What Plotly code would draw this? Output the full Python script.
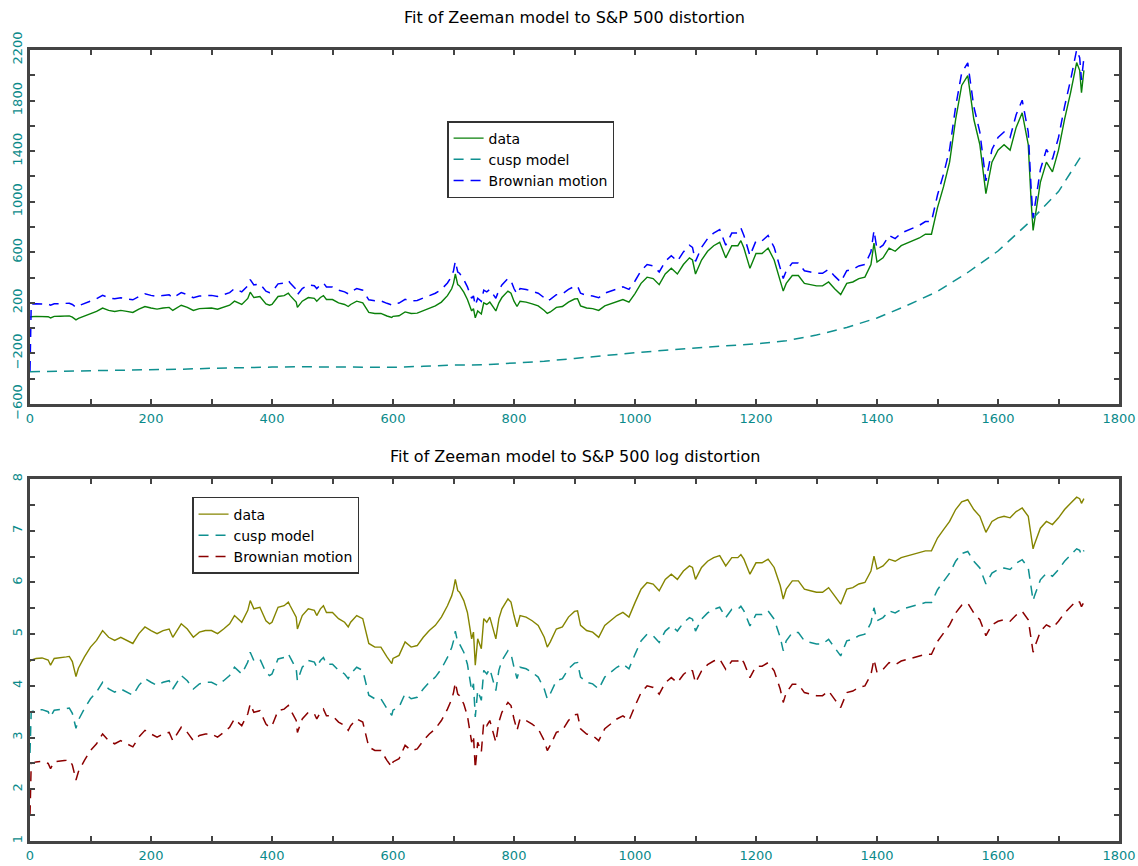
import plotly.graph_objects as go

# ---------------- data ----------------
t = [0, 2, 10, 20, 30, 34, 40, 50, 60, 65,
     70, 76, 80, 90, 100, 110, 120, 130, 140, 150,
     160, 170, 180, 190, 200, 210, 220, 230, 236, 240,
     250, 260, 270, 280, 290, 300, 310, 320, 330, 338,
     350, 360, 364, 370, 380, 390, 396, 400, 410, 420,
     427, 430, 440, 442, 450, 460, 470, 474, 480, 485,
     490, 500, 510, 520, 526, 530, 540, 550, 560, 570,
     580, 590, 598, 600, 610, 620, 630, 640, 650, 660,
     670, 680, 690, 697, 700, 703, 707, 710, 717, 723,
     730, 733, 736, 740, 746, 750, 755, 760, 766, 770,
     775, 780, 790, 795, 800, 805, 810, 820, 830, 840,
     850, 855, 860, 870, 880, 890, 900, 905, 910, 920,
     930, 940, 950, 960, 970, 980, 990, 1000, 1010, 1020,
     1030, 1040, 1050, 1060, 1070, 1080, 1090, 1095, 1100, 1110,
     1120, 1130, 1140, 1150, 1160, 1170, 1175, 1180, 1190, 1200,
     1210, 1220, 1230, 1240, 1245, 1250, 1260, 1270, 1280, 1290,
     1300, 1310, 1320, 1330, 1340, 1350, 1360, 1370, 1380, 1390,
     1395, 1400, 1410, 1420, 1430, 1440, 1450, 1460, 1470, 1480,
     1490, 1500, 1510, 1520, 1530, 1540, 1550, 1560, 1570, 1580,
     1590, 1600, 1610, 1620, 1630, 1640, 1650, 1655, 1658, 1660,
     1670, 1680, 1690, 1700, 1710, 1720, 1730, 1735, 1738, 1742]

data_top = [87, 90, 93, 94, 90, 81, 93, 94, 96, 97,
            87, 65, 77, 96, 116, 132, 159, 140, 132, 140,
            132, 124, 150, 171, 159, 150, 159, 164, 140, 150,
            181, 164, 140, 154, 159, 159, 150, 164, 181, 213,
            187, 235, 284, 242, 250, 192, 181, 187, 250, 257,
            276, 257, 206, 164, 213, 242, 235, 213, 242, 257,
            226, 226, 200, 187, 171, 187, 213, 200, 124, 116,
            116, 96, 84, 93, 98, 128, 116, 119, 140, 159,
            176, 206, 257, 311, 354, 428, 344, 334, 284, 226,
            136, 154, 81, 136, 112, 200, 187, 206, 164, 136,
            200, 242, 293, 276, 213, 171, 213, 206, 192, 176,
            140, 116, 128, 164, 171, 206, 230, 233, 176, 159,
            154, 140, 176, 194, 213, 226, 206, 273, 354, 403,
            392, 344, 428, 473, 428, 503, 556, 539, 428, 539,
            608, 652, 679, 556, 652, 652, 692, 633, 473, 590,
            590, 633, 539, 380, 293, 354, 416, 416, 354, 344,
            334, 334, 365, 311, 265, 354, 365, 392, 403, 503,
            672, 523, 556, 633, 608, 652, 672, 692, 713, 743,
            743, 953, 1119, 1313, 1652, 1920, 1998, 1652, 1451, 1064,
            1313, 1408, 1451, 1408, 1588, 1703, 1451, 982, 773, 837,
            1153, 1313, 1236, 1408, 1652, 1863, 2101, 2039, 1863, 2039]

brown_top = [-340, 190, 193, 194, 190, 181, 193, 194, 196, 197,
             187, 165, 177, 196, 216, 232, 259, 240, 232, 240,
             232, 224, 250, 271, 259, 250, 259, 264, 240, 250,
             281, 264, 240, 254, 259, 259, 250, 264, 281, 313,
             287, 335, 384, 342, 350, 292, 281, 287, 350, 357,
             376, 357, 306, 264, 313, 342, 335, 313, 342, 357,
             326, 326, 300, 287, 271, 287, 313, 300, 224, 216,
             216, 196, 184, 193, 198, 228, 216, 219, 240, 259,
             276, 306, 357, 411, 454, 528, 444, 434, 384, 326,
             236, 254, 181, 236, 212, 300, 287, 306, 264, 236,
             300, 342, 393, 376, 313, 271, 313, 306, 292, 276,
             240, 216, 228, 264, 271, 306, 330, 333, 276, 259,
             254, 240, 276, 294, 313, 326, 306, 373, 454, 503,
             492, 444, 528, 573, 528, 603, 656, 639, 528, 639,
             708, 752, 779, 656, 752, 752, 792, 733, 573, 690,
             690, 733, 639, 480, 393, 454, 516, 516, 454, 444,
             434, 434, 465, 411, 365, 454, 465, 492, 503, 603,
             772, 623, 656, 733, 708, 752, 772, 792, 813, 843,
             843, 1053, 1219, 1413, 1752, 2020, 2098, 1752, 1551, 1164,
             1413, 1508, 1551, 1508, 1688, 1803, 1551, 1082, 873, 937,
             1253, 1413, 1336, 1508, 1752, 1963, 2201, 2139, 1963, 2139]

t_cusp = [0, 50, 100, 150, 200, 250, 300, 350, 400, 450, 500, 550, 600,
          650, 700, 750, 800, 850, 900, 950, 1000, 1050, 1100, 1150, 1200,
          1250, 1300, 1350, 1400, 1450, 1500, 1550, 1600, 1650, 1700, 1740]
cusp_top = [-345, -342, -338, -335, -330, -325, -318, -312, -308, -306, -306, -308, -310,
            -302, -292, -290, -275, -262, -240, -215, -195, -175, -155, -140, -125,
            -100, -55, 5, 80, 180, 290, 440, 610, 830, 1080, 1380]

data_log = [4.47, 4.50, 4.53, 4.54, 4.50, 4.40, 4.53, 4.54, 4.56, 4.57,
            4.47, 4.18, 4.34, 4.56, 4.75, 4.88, 5.07, 4.94, 4.88, 4.94,
            4.88, 4.82, 5.01, 5.14, 5.07, 5.01, 5.07, 5.10, 4.94, 5.01,
            5.20, 5.10, 4.94, 5.04, 5.07, 5.07, 5.01, 5.10, 5.20, 5.36,
            5.23, 5.46, 5.65, 5.49, 5.52, 5.26, 5.20, 5.23, 5.52, 5.55,
            5.62, 5.55, 5.33, 5.10, 5.36, 5.49, 5.46, 5.36, 5.49, 5.55,
            5.42, 5.42, 5.30, 5.23, 5.14, 5.23, 5.36, 5.30, 4.82, 4.75,
            4.75, 4.56, 4.43, 4.53, 4.59, 4.85, 4.75, 4.78, 4.94, 5.07,
            5.17, 5.33, 5.55, 5.74, 5.87, 6.06, 5.84, 5.81, 5.65, 5.42,
            4.91, 5.04, 4.40, 4.91, 4.72, 5.30, 5.23, 5.33, 5.10, 4.91,
            5.30, 5.49, 5.68, 5.62, 5.36, 5.14, 5.36, 5.33, 5.26, 5.17,
            4.94, 4.75, 4.85, 5.10, 5.14, 5.33, 5.44, 5.45, 5.17, 5.07,
            5.04, 4.94, 5.17, 5.27, 5.36, 5.42, 5.33, 5.61, 5.87, 6.00,
            5.97, 5.84, 6.06, 6.16, 6.06, 6.22, 6.32, 6.29, 6.06, 6.29,
            6.41, 6.48, 6.52, 6.32, 6.48, 6.48, 6.54, 6.45, 6.16, 6.38,
            6.38, 6.45, 6.29, 5.94, 5.68, 5.87, 6.03, 6.03, 5.87, 5.84,
            5.81, 5.81, 5.90, 5.74, 5.58, 5.87, 5.90, 5.97, 6.00, 6.22,
            6.51, 6.26, 6.32, 6.45, 6.41, 6.48, 6.51, 6.54, 6.57, 6.61,
            6.61, 6.86, 7.02, 7.18, 7.41, 7.56, 7.60, 7.41, 7.28, 6.97,
            7.18, 7.25, 7.28, 7.25, 7.37, 7.44, 7.28, 6.89, 6.65, 6.73,
            7.05, 7.18, 7.12, 7.25, 7.41, 7.53, 7.65, 7.62, 7.53, 7.62]

cusp_log = [2.70, 3.50, 3.53, 3.54, 3.50, 3.40, 3.53, 3.54, 3.56, 3.57,
            3.47, 3.18, 3.34, 3.56, 3.75, 3.88, 4.07, 3.94, 3.88, 3.94,
            3.88, 3.82, 4.01, 4.14, 4.07, 4.01, 4.07, 4.10, 3.94, 4.01,
            4.20, 4.10, 3.94, 4.04, 4.07, 4.07, 4.01, 4.10, 4.20, 4.36,
            4.23, 4.46, 4.65, 4.49, 4.52, 4.26, 4.20, 4.23, 4.52, 4.55,
            4.62, 4.55, 4.33, 4.10, 4.36, 4.49, 4.46, 4.36, 4.49, 4.55,
            4.42, 4.42, 4.30, 4.23, 4.14, 4.23, 4.36, 4.30, 3.82, 3.75,
            3.75, 3.56, 3.43, 3.53, 3.59, 3.85, 3.75, 3.78, 3.94, 4.07,
            4.17, 4.33, 4.55, 4.74, 4.87, 5.06, 4.84, 4.81, 4.65, 4.42,
            3.91, 4.04, 3.40, 3.91, 3.72, 4.30, 4.23, 4.33, 4.10, 3.91,
            4.30, 4.49, 4.68, 4.62, 4.36, 4.14, 4.36, 4.33, 4.26, 4.17,
            3.94, 3.75, 3.85, 4.10, 4.14, 4.33, 4.44, 4.45, 4.17, 4.07,
            4.04, 3.94, 4.17, 4.27, 4.36, 4.42, 4.33, 4.61, 4.87, 5.00,
            4.97, 4.84, 5.06, 5.16, 5.06, 5.22, 5.32, 5.29, 5.06, 5.29,
            5.41, 5.48, 5.52, 5.32, 5.48, 5.48, 5.54, 5.45, 5.16, 5.38,
            5.38, 5.45, 5.29, 4.94, 4.68, 4.87, 5.03, 5.03, 4.87, 4.84,
            4.81, 4.81, 4.90, 4.74, 4.58, 4.87, 4.90, 4.97, 5.00, 5.22,
            5.51, 5.26, 5.32, 5.45, 5.41, 5.48, 5.51, 5.54, 5.57, 5.61,
            5.61, 5.86, 6.02, 6.18, 6.41, 6.56, 6.60, 6.41, 6.28, 5.97,
            6.18, 6.25, 6.28, 6.25, 6.37, 6.44, 6.28, 5.89, 5.65, 5.73,
            6.05, 6.18, 6.12, 6.25, 6.41, 6.53, 6.65, 6.62, 6.53, 6.62]

brown_log = [1.50, 2.50, 2.53, 2.54, 2.50, 2.40, 2.53, 2.54, 2.56, 2.57,
             2.47, 2.18, 2.34, 2.56, 2.75, 2.88, 3.07, 2.94, 2.88, 2.94,
             2.88, 2.82, 3.01, 3.14, 3.07, 3.01, 3.07, 3.10, 2.94, 3.01,
             3.20, 3.10, 2.94, 3.04, 3.07, 3.07, 3.01, 3.10, 3.20, 3.36,
             3.23, 3.46, 3.65, 3.49, 3.52, 3.26, 3.20, 3.23, 3.52, 3.55,
             3.62, 3.55, 3.33, 3.10, 3.36, 3.49, 3.46, 3.36, 3.49, 3.55,
             3.42, 3.42, 3.30, 3.23, 3.14, 3.23, 3.36, 3.30, 2.82, 2.75,
             2.75, 2.56, 2.43, 2.53, 2.59, 2.85, 2.75, 2.78, 2.94, 3.07,
             3.17, 3.33, 3.55, 3.74, 3.87, 4.06, 3.84, 3.81, 3.65, 3.42,
             2.91, 3.04, 2.40, 2.91, 2.72, 3.30, 3.23, 3.33, 3.10, 2.91,
             3.30, 3.49, 3.68, 3.62, 3.36, 3.14, 3.36, 3.33, 3.26, 3.17,
             2.94, 2.75, 2.85, 3.10, 3.14, 3.33, 3.44, 3.45, 3.17, 3.07,
             3.04, 2.94, 3.17, 3.27, 3.36, 3.42, 3.33, 3.61, 3.87, 4.00,
             3.97, 3.84, 4.06, 4.16, 4.06, 4.22, 4.32, 4.29, 4.06, 4.29,
             4.41, 4.48, 4.52, 4.32, 4.48, 4.48, 4.54, 4.45, 4.16, 4.38,
             4.38, 4.45, 4.29, 3.94, 3.68, 3.87, 4.03, 4.03, 3.87, 3.84,
             3.81, 3.81, 3.90, 3.74, 3.58, 3.87, 3.90, 3.97, 4.00, 4.22,
             4.51, 4.26, 4.32, 4.45, 4.41, 4.48, 4.51, 4.54, 4.57, 4.61,
             4.61, 4.86, 5.02, 5.18, 5.41, 5.56, 5.60, 5.41, 5.28, 4.97,
             5.18, 5.25, 5.28, 5.25, 5.37, 5.44, 5.28, 4.89, 4.65, 4.73,
             5.05, 5.18, 5.12, 5.25, 5.41, 5.53, 5.65, 5.62, 5.53, 5.62]

titles = ["Fit of Zeeman model to S&P 500 distortion",
          "Fit of Zeeman model to S&P 500 log distortion"]
names = ["data", "cusp model", "Brownian motion"]

# ---------------- styling ----------------
FONT = "DejaVu Sans"
TICKCOL = "#0a8a8a"
AXCOL = "#444444"
TEAL = "#0f9090"
DASH = "10px,7px"

fig = go.Figure()

fig.add_trace(go.Scatter(x=t, y=data_top, name=names[0], mode="lines",
                         line=dict(color="#0a800a", width=1.4),
                         xaxis="x", yaxis="y", legend="legend"))
fig.add_trace(go.Scatter(x=t_cusp, y=cusp_top, name=names[1], mode="lines",
                         line=dict(color=TEAL, width=1.5, dash=DASH),
                         xaxis="x", yaxis="y", legend="legend"))
fig.add_trace(go.Scatter(x=t, y=brown_top, name=names[2], mode="lines",
                         line=dict(color="#0000ff", width=1.5, dash=DASH),
                         xaxis="x", yaxis="y", legend="legend"))

fig.add_trace(go.Scatter(x=t, y=data_log, name=names[0], mode="lines",
                         line=dict(color="#858500", width=1.4),
                         xaxis="x2", yaxis="y2", legend="legend2"))
fig.add_trace(go.Scatter(x=t, y=cusp_log, name=names[1], mode="lines",
                         line=dict(color=TEAL, width=1.5, dash=DASH),
                         xaxis="x2", yaxis="y2", legend="legend2"))
fig.add_trace(go.Scatter(x=t, y=brown_log, name=names[2], mode="lines",
                         line=dict(color="#8b0000", width=1.5, dash=DASH),
                         xaxis="x2", yaxis="y2", legend="legend2"))

axis_common = dict(
    showline=True, linewidth=3, linecolor=AXCOL, mirror="ticks",
    ticks="inside", ticklen=5, tickwidth=1.5, tickcolor=AXCOL,
    showgrid=False, zeroline=False, automargin=False,
    tickfont=dict(family=FONT, size=13, color=TICKCOL),
)
minor_common = dict(ticks="inside", ticklen=5, tickcolor=AXCOL, tickwidth=1.5)

legend_common = dict(xanchor="left", yanchor="top",
                     bgcolor="white", bordercolor="#333333", borderwidth=1.5,
                     font=dict(family=FONT, size=14, color="black"),
                     tracegroupgap=0, itemwidth=30)

fig.update_layout(
    width=1138, height=866,
    template="none",
    paper_bgcolor="white", plot_bgcolor="white",
    margin=dict(l=30, r=19, t=50, b=25),
    font=dict(family=FONT, size=13, color="black"),
    xaxis=dict(domain=[0, 1], anchor="y", range=[0, 1800], dtick=200, tick0=0,
               minor=dict(dtick=100, **minor_common), **axis_common),
    yaxis=dict(domain=[0.5525, 1], anchor="x", range=[-600, 2200], dtick=400, tick0=-600,
               tickangle=-90, minor=dict(dtick=200, **minor_common), **axis_common),
    xaxis2=dict(domain=[0, 1], anchor="y2", range=[0, 1800], dtick=200, tick0=0,
                minor=dict(dtick=100, **minor_common), **axis_common),
    yaxis2=dict(domain=[0, 0.4576], anchor="x2", range=[1, 8], dtick=1, tick0=1,
                tickangle=-90, minor=dict(dtick=0.5, **minor_common), **axis_common),
    legend=dict(x=0.383, y=0.9102, **legend_common),
    legend2=dict(x=0.1488, y=0.4349, **legend_common),
    annotations=[
        dict(text=titles[0], x=0.5, y=1.0417, xref="paper", yref="paper",
             xanchor="center", yanchor="middle", showarrow=False,
             font=dict(family=FONT, size=16, color="black")),
        dict(text=titles[1], x=0.5, y=0.4855, xref="paper", yref="paper",
             xanchor="center", yanchor="middle", showarrow=False,
             font=dict(family=FONT, size=16, color="black")),
    ],
)

fig.write_html("out.html", config={"displayModeBar": False},
               post_script="document.body.style.margin='0';document.body.style.padding='0';")
